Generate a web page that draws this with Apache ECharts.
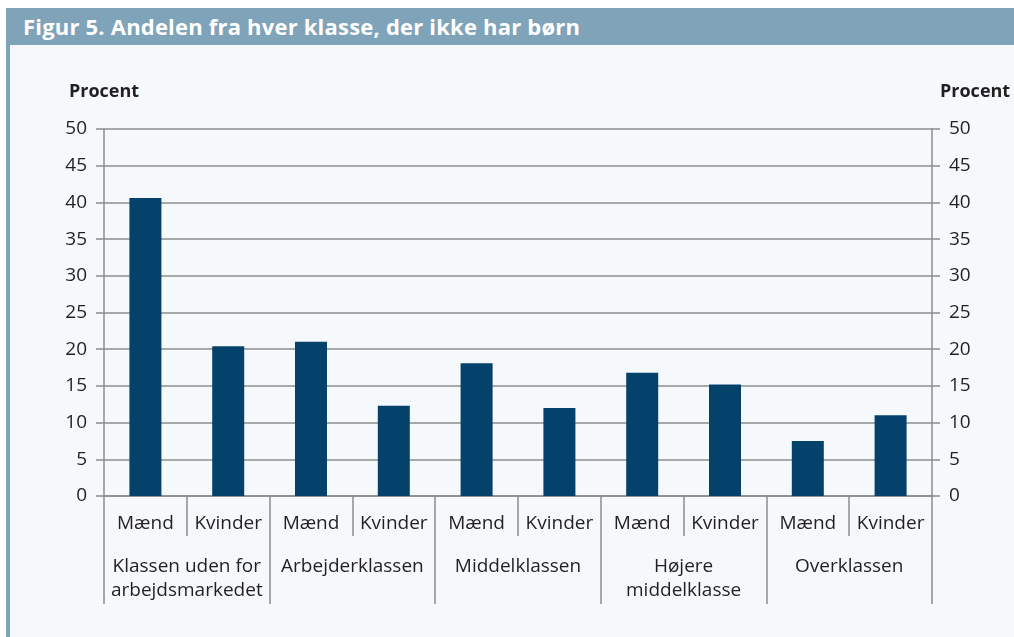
<!DOCTYPE html>
<html>
<head>
    <meta charset="utf-8">
    <title>Figur 5</title>
    <script src="https://cdn.jsdelivr.net/npm/echarts@6/dist/echarts.min.js"></script>
    <style>
        body { margin: 0; background: #ffffff; }
        #frame { position: absolute; left: 6px; top: 8px; width: 1008px; height: 629px;
                 background: #f5f9fc; border-left: 4px solid #7fa3b9; box-sizing: border-box; }
        #title { position: absolute; left: 0; top: 0; right: 0; height: 37px; background: #7fa3b9;
                 color: #ffffff; font-family: 'Open Sans', sans-serif; font-weight: bold; font-size: 22px;
                 line-height: 37px; padding-left: 13px; letter-spacing: 0.2px; }
        #main { position: absolute; left: 0; top: 0; width: 1014px; height: 637px; }
    </style>
</head>
<body>
<div id="frame"><div id="title">Figur 5. Andelen fra hver klasse, der ikke har børn</div></div>
<div id="main"></div>
<script type="text/javascript">
    // data
    const sexes = ['Mænd', 'Kvinder', 'Mænd', 'Kvinder', 'Mænd', 'Kvinder', 'Mænd', 'Kvinder', 'Mænd', 'Kvinder'];
    const classes = ['Klassen uden for\narbejdsmarkedet', 'Arbejderklassen', 'Middelklassen', 'Højere\nmiddelklasse', 'Overklassen'];
    const shares = [40.6, 20.4, 21.0, 12.3, 18.1, 12.0, 16.8, 15.2, 7.5, 11.0];

    const grey = '#8c8c8c';
    const ink = '#231f20';
    const font = 'Open Sans';
    const myChart = echarts.init(document.getElementById('main'));

    const yAxisBase = {
        type: 'value', min: 0, max: 50, interval: 5,
        name: 'Procent', nameLocation: 'end', nameGap: 28,
        axisLine: { show: true, lineStyle: { color: grey, width: 1.5 } },
        axisTick: { show: true, length: 8, lineStyle: { color: grey, width: 1.5 } },
        axisLabel: { color: ink, fontSize: 19, fontFamily: font, margin: 17 }
    };

    const option = {
        backgroundColor: 'transparent',
        animation: false,
        grid: { left: 104, right: 82, top: 129, bottom: 141, containLabel: false, outerBoundsMode: 'none' },
        xAxis: [{
            type: 'category', data: sexes, position: 'bottom',
            axisLine: { show: true, lineStyle: { color: grey, width: 1.5 } },
            axisTick: { show: true, interval: 0, length: 40, lineStyle: { color: grey, width: 1.5 } },
            axisLabel: { interval: 0, color: ink, fontSize: 19, fontFamily: font, margin: 18 }
        }, {
            type: 'category', data: classes, position: 'bottom',
            axisLine: { show: false },
            axisTick: { show: true, interval: 0, length: 108, lineStyle: { color: grey, width: 1.5 } },
            axisLabel: { interval: 0, color: ink, fontSize: 19, fontFamily: font, margin: 59, lineHeight: 24 }
        }],
        yAxis: [Object.assign({}, yAxisBase, {
            position: 'left',
            nameTextStyle: { color: ink, fontSize: 18, fontWeight: 'bold', fontFamily: font, align: 'center' },
            splitLine: { show: true, lineStyle: { color: grey, width: 1.5 } }
        }), Object.assign({}, yAxisBase, {
            position: 'right',
            nameTextStyle: { color: ink, fontSize: 18, fontWeight: 'bold', fontFamily: font, align: 'left', padding: [0, 0, 0, 8] },
            splitLine: { show: false }
        })],
        series: [{
            type: 'bar', xAxisIndex: 0, yAxisIndex: 0,
            data: shares, barWidth: 32,
            itemStyle: { color: '#05426b' }
        }]
    };

    myChart.setOption(option);
</script>
</body>
</html>
